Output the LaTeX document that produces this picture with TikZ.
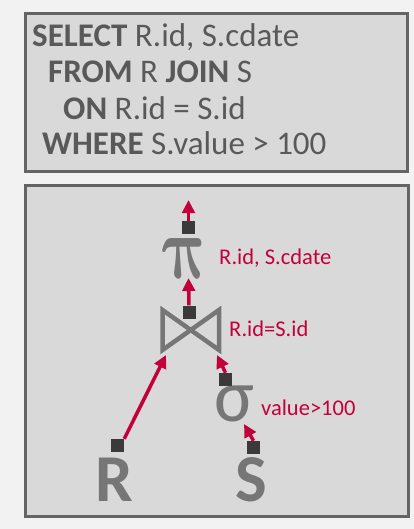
\documentclass[tikz,border=0pt]{standalone}
\usepackage{fontspec}
\setmainfont{Carlito}
\usetikzlibrary{arrows.meta}
\definecolor{bgc}{HTML}{F2F2F2}
\definecolor{boxfill}{HTML}{D9D9D9}
\definecolor{boxline}{HTML}{646464}
\definecolor{sqltext}{HTML}{595959}
\definecolor{glyph}{HTML}{767676}
\definecolor{sqc}{HTML}{3A3A3A}
\definecolor{redc}{HTML}{C3003C}
\tikzset{
  panel/.style={draw=boxline, fill=boxfill, line width=3pt},
  sqlline/.style={anchor=base west, inner sep=0pt, text=sqltext, font=\fontsize{33}{36}\selectfont},
  portsq/.style={fill=sqc, minimum size=13pt, inner sep=0pt},
  lbl/.style={anchor=base west, inner sep=0pt, text=redc, font=\fontsize{22.5}{25}\selectfont},
  rel/.style={inner sep=0pt, text=glyph, font=\fontsize{67}{70}\selectfont\bfseries},
  flow/.style={draw=redc, line width=3.5pt, -{Triangle[width=12.5pt,length=13pt]}},
}
\begin{document}
\begin{tikzpicture}[x=1pt,y=-1pt]
\useasboundingbox[fill=bgc] (0,0) rectangle (414,529);
% panels
\draw[panel] (25,14) rectangle (407,172);
\draw[panel] (25,186) rectangle (408,516);
% SQL
\node[sqlline] (l1) at (32,47) {\textbf{SELECT} R.id, S.cdate};
\node[sqlline] (l2) at (48,83) {\textbf{FROM} R \textbf{JOIN} S};
\node[sqlline] (l3) at (63,120) {\textbf{ON} R.id = S.id};
\node[sqlline] (l4) at (42,155) {\textbf{WHERE} S.value > 100};
% projection
\node[inner sep=0pt, text=glyph, font=\fontsize{10}{12}\selectfont\boldmath, anchor=center, transform shape, xslant=-0.25, xscale=0.72, scale=9] (pi) at (186,258) {$\pi$};
\node[portsq] (piq) at (188.5,227.5) {};
\coordinate (out) at (188.5,200);
\node[lbl] (pil) at (219,264) {R.id, S.cdate};
% join
\draw[glyph, line width=4.5pt, miter limit=10] (162.5,310) -- (162.5,350) -- (219,310) -- (219,350) -- cycle;
\coordinate (join) at (190.5,330);
\node[portsq] (jq) at (189,312) {};
\coordinate (jin) at (188.5,278);
\node[lbl] (jl) at (229,336) {R.id=S.id};
\coordinate (jleft) at (166,355);
\coordinate (jright) at (217,355);
% selection
\node[inner sep=0pt, text=glyph, font=\fontsize{75}{80}\selectfont, anchor=center] (sigma) at (234,404) {σ};
\node[portsq] (sq) at (225.5,379.5) {};
\node[lbl] (sl) at (261,415) {value>100};
\coordinate (sin) at (244,424);
% relations
\node[rel, anchor=base] (R) at (114.5,501) {R};
\node[rel, anchor=base] (S) at (251.5,501) {S};
\node[portsq] (rq) at (117.5,445.5) {};
\node[portsq] (ssq) at (253.5,447.5) {};
% arrows
\draw[flow] (piq.north) -- (out);
\draw[flow] (jq.north) -- (jin);
\draw[flow] (rq.north east) -- (jleft);
\draw[flow] (sq.north) -- (jright);
\draw[flow] (ssq.north) -- (sin);
\end{tikzpicture}
\end{document}
